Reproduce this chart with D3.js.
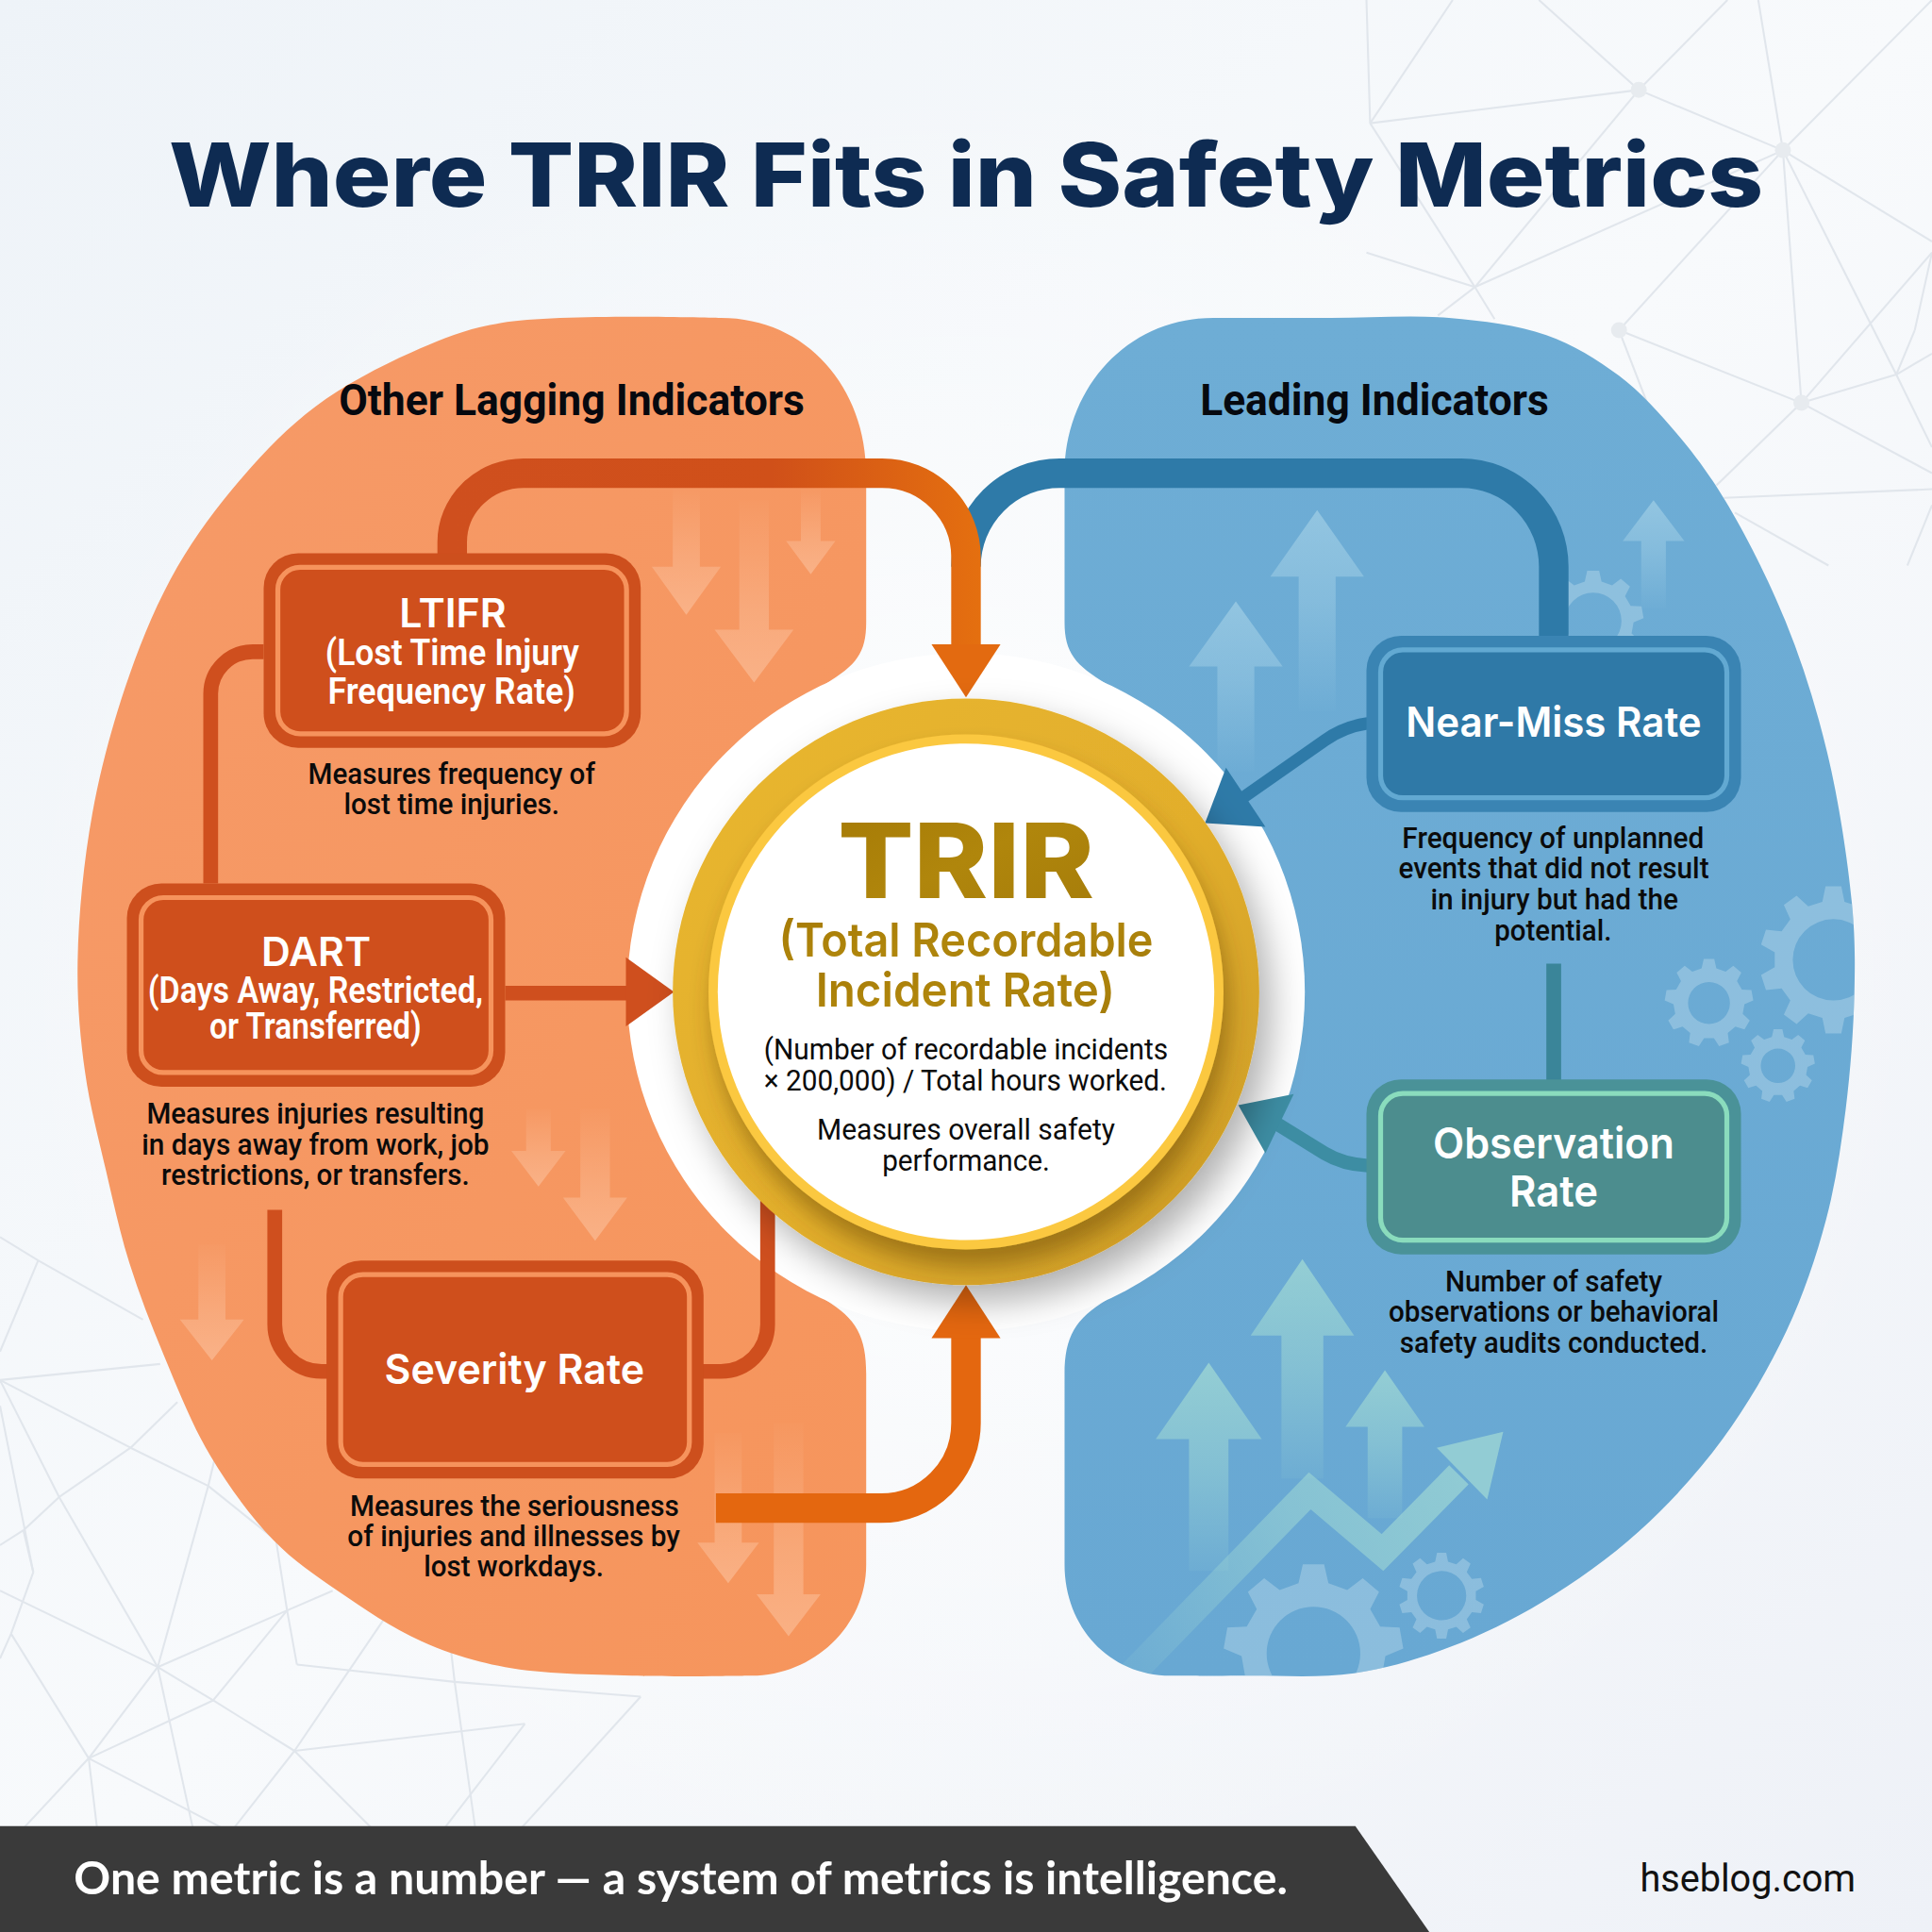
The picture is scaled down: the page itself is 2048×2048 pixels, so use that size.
<!DOCTYPE html>
<html>
<head>
    <title>Where TRIR Fits in Safety Metrics</title>
    <script src="https://d3js.org/d3.v7.min.js"></script>
    <style type="text/css">
        html, body{ margin:0; padding:0; background:#f4f7fa; }
        svg{ display:block; }
    </style>
</head>
<body>
<script>
    // texts
    var titleText = ["Where TRIR Fits in Safety Metrics"];
    var groupNames = ["Other Lagging Indicators", "Leading Indicators"];
    var ltifrName = ["LTIFR"];
    var ltifrLong = ["(Lost Time Injury", "Frequency Rate)"];
    var ltifrNote = ["Measures frequency of", "lost time injuries."];
    var dartName = ["DART"];
    var dartLong = ["(Days Away, Restricted,", "or Transferred)"];
    var dartNote = ["Measures injuries resulting", "in days away from work, job", "restrictions, or transfers."];
    var severityName = ["Severity Rate"];
    var severityNote = ["Measures the seriousness", "of injuries and illnesses by", "lost workdays."];
    var nearMissName = ["Near-Miss Rate"];
    var nearMissNote = ["Frequency of unplanned", "events that did not result", "in injury but had the", "potential."];
    var observationName = ["Observation", "Rate"];
    var observationNote = ["Number of safety", "observations or behavioral", "safety audits conducted."];
    var trirName = ["TRIR"];
    var trirLong = ["(Total Recordable", "Incident Rate)"];
    var trirFormula = ["(Number of recordable incidents", "\u00d7 200,000) / Total hours worked."];
    var trirNote = ["Measures overall safety", "performance."];
    var footerText = ["One metric is a number \u2014 a system of metrics is intelligence."];
    var siteText = ["hseblog.com"];

    var w = 2048;
    var u = d3.scaleLinear().domain([0,1568]).range([0,w]); // layout below is in 1568 units

    var svg = d3.select("body").append("svg").attr("width",w).attr("height",w);
    var defs = svg.append("defs");
    var root = svg.append("g").attr("transform","scale("+u(1)+")");

    function linGrad(id,x1,y1,x2,y2,stops,user){
        var g = defs.append("linearGradient").attr("id",id)
            .attr("x1",x1).attr("y1",y1).attr("x2",x2).attr("y2",y2);
        if(user) g.attr("gradientUnits","userSpaceOnUse");
        stops.forEach(function(s){
            g.append("stop").attr("offset",s[0]).attr("stop-color",s[1]).attr("stop-opacity",s[2]===undefined?1:s[2]);
        });
    }
    linGrad("bg",0,0,1,1,[[0,"#eef3f8"],[0.5,"#f8fafc"],[1,"#eef1f7"]]);
    linGrad("orangeBlob",0,0,1,1,[[0,"#f69a68"],[1,"#f6955c"]]);
    linGrad("blueBlob",0,0,0,1,[[0,"#6eadd5"],[1,"#68a8d3"]]);
    linGrad("downFade",0,0,0,1,[[0,"#ffdcc4",0.02],[0.6,"#ffdcc4",0.26],[1,"#ffdcc4",0.38]]);
    linGrad("upFade",0,0,0,1,[[0,"#a9d4e8",0.62],[0.45,"#a9d4e8",0.4],[1,"#a9d4e8",0.02]]);
    linGrad("upFadeTeal",0,0,0,1,[[0,"#a4dcd4",0.72],[0.5,"#a4dcd4",0.45],[1,"#a4dcd4",0.08]]);
    linGrad("trendFade",925,1350,1210,1170,[[0,"#a4dcd4",0.12],[0.5,"#a4dcd4",0.5],[1,"#a4dcd4",0.7]],true);
    linGrad("topArrow",367,0,800,0,[[0,"#cf4f1e"],[0.6,"#d05019"],[1,"#e5700f"]],true);
    linGrad("ringGold",0,0,1,1,[[0,"#e9b72f"],[0.55,"#e2ae2c"],[1,"#c99a26"]]);
    linGrad("trirText",0,0,1,1,[[0,"#a57a06"],[0.5,"#b0860c"],[1,"#a57c0a"]]);
    var bgGlow = defs.append("radialGradient").attr("id","bgGlow");
    bgGlow.append("stop").attr("offset",0).attr("stop-color","#ffffff").attr("stop-opacity",1);
    bgGlow.append("stop").attr("offset",1).attr("stop-color","#ffffff").attr("stop-opacity",0);

    var ringShadow = defs.append("filter").attr("id","ringShadow")
        .attr("x","-20%").attr("y","-20%").attr("width","150%").attr("height","150%");
    ringShadow.append("feDropShadow").attr("dx",10).attr("dy",14).attr("stdDeviation",14)
        .attr("flood-color","#000").attr("flood-opacity",0.3);
    var innerShadow = defs.append("filter").attr("id","innerShadow")
        .attr("x","-20%").attr("y","-20%").attr("width","140%").attr("height","140%");
    innerShadow.append("feDropShadow").attr("dx",4).attr("dy",14).attr("stdDeviation",9)
        .attr("flood-color","#5a3d00").attr("flood-opacity",0.45);

    // background
    root.append("rect").attr("width",1568).attr("height",1568).attr("fill","url(#bg)");
    root.append("ellipse").attr("cx",784).attr("cy",800).attr("rx",800).attr("ry",760).attr("fill","url(#bgGlow)").attr("opacity",0.7);

    // faint network, top right and bottom left
    var netTop = [[1112,100],[1330,73],[1447,122],[1314,268],[1462,327],[1539,304],[1197,233],[1517,264]];
    var netTopLinks = [[0,1],[1,2],[1,6],[0,6],[2,3],[2,4],[2,5],[3,4],[4,5],[6,2]];
    var netTopOpen = [
        [1330,73,1249,0],[1330,73,1402,0],[1112,100,1179,0],[1112,100,1109,0],[1109,205,1197,233],
        [1197,233,1167,256],[1197,233,1213,259],[1447,122,1427,0],[1447,122,1568,0],[1447,122,1568,196],
        [1314,268,1343,343],[1462,327,1568,205],[1462,327,1393,394],[1462,327,1568,384],[1399,404,1568,397],
        [1408,416,1484,459],[1539,304,1568,287],[1539,304,1554,268],[1554,268,1568,205],[1539,304,1568,363],[1568,410,1548,459]
    ];
    var netBot = [[31,1023],[0,1120],[106,1175],[48,1215],[19,1242],[128,1353],[72,1427],[239,1421],[241,1351],[173,1380],[9,1326],[520,1377],[426,1399],[224,1250],[169,1206],[27,1276],[233,1307],[369,1365]];
    var netBotLinks = [[1,2],[2,14],[1,3],[3,5],[2,3],[3,4],[14,5],[14,13],[15,10],[5,16],[5,6],[5,9],[9,7],[10,6],[6,9],[9,16],[13,16],[16,8],[8,17],[17,11],[7,12],[4,15]];
    var netBotOpen = [
        [0,1004,31,1023],[31,1023,116,1071],[31,1023,0,1097],[0,1120,130,1107],[106,1175,144,1138],[19,1242,0,1254],
        [169,1206,174,1185],[0,1141,27,1276],[9,1326,0,1346],[0,1291,128,1353],[233,1307,270,1291],[128,1353,157,1486],
        [239,1421,304,1486],[72,1427,79,1486],[72,1427,17,1486],[239,1421,188,1486],[239,1421,311,1315],[426,1399,359,1486],
        [520,1377,421,1486],[369,1365,366,1339],[369,1365,386,1486],[72,1427,185,1486]
    ];
    var net = root.append("g").attr("stroke","#e1e6ec").attr("stroke-width",1.6).attr("fill","none");
    function netLines(data){
        net.selectAll(null).data(data).enter().append("line")
            .attr("x1",function(d){return d[0];}).attr("y1",function(d){return d[1];})
            .attr("x2",function(d){return d[2];}).attr("y2",function(d){return d[3];});
    }
    netLines(netTopLinks.map(function(l){return netTop[l[0]].concat(netTop[l[1]]);}));
    netLines(netTopOpen);
    netLines(netBotLinks.map(function(l){return netBot[l[0]].concat(netBot[l[1]]);}));
    netLines(netBotOpen);
    root.append("g").selectAll("circle").data(netTop.slice(1,5)).enter().append("circle")
        .attr("cx",function(d){return d[0];}).attr("cy",function(d){return d[1];}).attr("r",6.5).attr("fill","#e7ebef");

    // side panels
    var smooth = d3.line().curve(d3.curveCatmullRom.alpha(0.5));
    var leftEdge = [[610,1360],[513,1360],[410,1353],[342,1332],[274,1291],[222,1250],[171,1182],[133,1100],[105,1025],[86,950],[69,870],[63,782],[75,660],[105,548],[144,460],[197,387],[256,330],[334,286],[407,262],[585,258]];
    var rightEdge = [[985,258],[1080,258],[1176,258],[1255,272],[1314,305],[1361,352],[1400,406],[1449,504],[1483,611],[1503,733],[1505,806],[1498,900],[1482,990],[1450,1080],[1398,1168],[1330,1243],[1252,1300],[1176,1337],[1099,1358],[1011,1360],[950,1360]];
    var leftPanel = smooth(leftEdge)+" C 655 258 703 315 703 385 L 703 505 C 703 530 695 540 670 555 L 670 1055 C 695 1070 703 1085 703 1115 L 703 1270 C 703 1320 660 1360 610 1360 Z";
    var rightPanel = smooth(rightEdge)+" C 900 1360 864 1320 864 1270 L 864 1115 C 864 1085 873 1070 898 1055 L 898 555 C 873 540 864 530 864 505 L 864 385 C 864 315 915 258 985 258 Z";
    defs.append("clipPath").attr("id","clipLeft").append("path").attr("d",leftPanel);
    defs.append("clipPath").attr("id","clipRight").append("path").attr("d",rightPanel);
    root.append("path").attr("d",leftPanel).attr("fill","url(#orangeBlob)");
    root.append("path").attr("d",rightPanel).attr("fill","url(#blueBlob)");

    // faded background arrows: centre, start of shaft, head base, tip, half shaft, half head
    var arrowShape = d3.line();
    function arrowPts(a){
        var c=a[0], s=a[1], b=a[2], t=a[3], hs=a[4], hh=a[5];
        return [[c-hs,s],[c-hs,b],[c-hh,b],[c,t],[c+hh,b],[c+hs,b],[c+hs,s]];
    }
    var downArrows = [
        [557,397,460,499,11,28],[612,406,511,554,12,32],[658,397,439,466,8,20],[437,900,934,963,10,22],
        [483,900,972,1007,12,26],[172,1010,1071,1104,11,26],[591,1163,1252,1285,11,25],[640,1155,1294,1328,12,26]
    ];
    var upArrows = [[1003,626,541,488,15,38],[1069,577,468,414,15,38],[1342,494,439,406,10,25]];
    var upArrowsLow = [[981,1275,1168,1106,16,43],[1057,1200,1084,1022,17,42],[1124,1232,1158,1112,14,32]];
    root.append("g").attr("clip-path","url(#clipLeft)").selectAll("path").data(downArrows).enter().append("path")
        .attr("d",function(d){return arrowShape(arrowPts(d))+"Z";}).attr("fill","url(#downFade)");

    var rightDecor = root.append("g").attr("clip-path","url(#clipRight)");
    rightDecor.selectAll(null).data(upArrows).enter().append("path")
        .attr("d",function(d){return arrowShape(arrowPts(d))+"Z";}).attr("fill","url(#upFade)");
    rightDecor.selectAll(null).data(upArrowsLow).enter().append("path")
        .attr("d",function(d){return arrowShape(arrowPts(d))+"Z";}).attr("fill","url(#upFadeTeal)");

    // cog: centre, outer radius, hole radius, teeth
    function gearPath(g){
        var n=g[3], R=g[2], r=R*0.8, pts=[], step=2*Math.PI/n;
        d3.range(n).forEach(function(i){
            var a=i*step;
            pts.push([a-step*0.30,r],[a-step*0.17,R],[a+step*0.17,R],[a+step*0.30,r]);
        });
        var xy = pts.map(function(p){return [g[0]+p[1]*Math.sin(p[0]), g[1]-p[1]*Math.cos(p[0])];});
        var hole = d3.path();
        hole.moveTo(g[0]+g[4],g[1]);
        hole.arc(g[0],g[1],g[4],0,2*Math.PI);
        return arrowShape(xy)+"Z"+hole.toString();
    }
    var gears = [
        [1488,779,60,10,33],[1387,814,36,9,17],[1443,865,30,9,14],[1293,504,41,9,23],
        [1066,1342,73,9,38],[1170,1295,35,10,20]
    ];
    rightDecor.selectAll(null).data(gears).enter().append("path")
        .attr("d",gearPath).attr("fill-rule","evenodd").attr("fill","#bcdcec").attr("opacity",0.42);
    var trendLine = [[915,1362],[1063,1210],[1122,1260],[1184,1197]];
    rightDecor.append("path").attr("d",d3.line()(trendLine)).attr("fill","none")
        .attr("stroke","url(#trendFade)").attr("stroke-width",22);
    rightDecor.append("path").attr("d",arrowShape([[1220,1162],[1166,1175],[1207,1217]])+"Z")
        .attr("fill","#a4dcd4").attr("opacity",0.7);

    // white disc behind the ring
    root.append("circle").attr("cx",784).attr("cy",805).attr("r",275).attr("fill","#ffffff");

    // connectors
    function link(d,color,width){
        return root.append("path").attr("d",d).attr("fill","none").attr("stroke",color).attr("stroke-width",width);
    }
    function head(pts,color){
        root.append("path").attr("d",arrowShape(pts)+"Z").attr("fill",color);
    }
    var orange="#cf4f1e", blue="#2e7aa8", teal="#3a8599", amber="#e4670f";
    link("M 1261 518 L 1261 460 A 75 76 0 0 0 1186 384 L 860 384 A 76 76 0 0 0 784 460",blue,24);
    link("M 367 452 L 367 440 A 58 56 0 0 1 425 384 L 716 384 A 68 68 0 0 1 784 452 L 784 525","url(#topArrow)",24);
    head([[756,523],[812,523],[784,566]],"#e36a10");
    link("M 214 529 L 205 529 A 34 34 0 0 0 171 563 L 171 717",orange,12);
    link("M 223 982 L 223 1075 A 38 38 0 0 0 261 1113 L 266 1113",orange,12);
    link("M 570 1113 L 585 1113 A 38 38 0 0 0 623 1075 L 623 970",orange,12);
    link("M 410 806 L 510 806",orange,12);
    head([[508,777],[547,805],[508,833]],orange);
    link("M 581 1224 L 715 1224 A 69 69 0 0 0 784 1155 L 784 1084",amber,24);
    head([[756,1086],[812,1086],[784,1043]],amber);
    link("M 1261 782 L 1261 878",teal,12);
    link("M 1110 587 Q 1090 590 1075 601 L 1005 650",blue,10);
    head([[995,623],[978,668],[1027,671]],blue);
    link("M 1110 946 Q 1090 945 1075 936 L 1025 905","#3d8da3",11);
    head([[1005,897],[1050,888],[1027,936]],"#3d8da3");

    // metric boxes: x0, y0, x1, y1
    var boxes = [
        {r:[214,449,520,607],edge:"#cd4f1d",line:"#f6935c",fill:"#cf4f1c"},
        {r:[103,717,410,882],edge:"#cd4f1d",line:"#f6935c",fill:"#cf4f1c"},
        {r:[265,1023,571,1200],edge:"#cd4f1d",line:"#f6935c",fill:"#cf4f1c"},
        {r:[1109,516,1413,659],edge:"#3a84b3",line:"#62a9d2",fill:"#2f79a7"},
        {r:[1109,876,1413,1018],edge:"#4a9298",line:"#8adcbd",fill:"#4c8d8e"}
    ];
    var box = root.append("g").selectAll("g").data(boxes).enter().append("g");
    box.append("rect")
        .attr("x",function(d){return d.r[0];}).attr("y",function(d){return d.r[1];})
        .attr("width",function(d){return d.r[2]-d.r[0];}).attr("height",function(d){return d.r[3]-d.r[1];})
        .attr("rx",28).attr("fill",function(d){return d.edge;});
    box.append("rect")
        .attr("x",function(d){return d.r[0]+11.5;}).attr("y",function(d){return d.r[1]+11.5;})
        .attr("width",function(d){return d.r[2]-d.r[0]-23;}).attr("height",function(d){return d.r[3]-d.r[1]-23;})
        .attr("rx",18).attr("fill",function(d){return d.fill;})
        .attr("stroke",function(d){return d.line;}).attr("stroke-width",4);

    // TRIR ring
    root.append("circle").attr("cx",784).attr("cy",805).attr("r",238).attr("fill","url(#ringGold)").attr("filter","url(#ringShadow)");
    root.append("circle").attr("cx",784).attr("cy",805).attr("r",209).attr("fill","#fbc840").attr("filter","url(#innerShadow)");
    root.append("circle").attr("cx",784).attr("cy",805).attr("r",201.5).attr("fill","#ffffff");

    // every line is fitted to the width it has in the picture
    function label(lines,spans,baselines,font,size,weight,color){
        var t = root.append("g").selectAll("text").data(lines).enter().append("text")
            .text(function(d){return d;})
            .attr("x",function(d,i){return spans[i][0];})
            .attr("y",function(d,i){return baselines[i];})
            .attr("font-family",font).attr("font-size",size).attr("font-weight",weight).attr("fill",color);
        t.attr("textLength",function(d,i){return spans[i][1]-spans[i][0];})
         .attr("lengthAdjust","spacingAndGlyphs");
    }
    var body = "Roboto, sans-serif", head2 = "Inter, Roboto, sans-serif";
    label(titleText,[[137,1431]],[168],head2,72,800,"#0e2b52");
    label(groupNames,[[275,653],[974,1257]],[337,337],body,36,700,"#06090f");
    label(ltifrName,[[324,411]],[509],head2,32,600,"#fff");
    label(ltifrLong,[[264,470],[266,467]],[540,571],body,29,600,"#fff");
    label(ltifrNote,[[250,483],[279,454]],[636,661],body,24,500,"#0b0b0b");
    label(dartName,[[212,301]],[784],head2,32,600,"#fff");
    label(dartLong,[[120,392],[170,342]],[814,843],body,29,600,"#fff");
    label(dartNote,[[119,393],[115,397],[131,381]],[912,937,962],body,24,500,"#0b0b0b");
    label(severityName,[[312,523]],[1123],head2,34,600,"#fff");
    label(severityNote,[[284,551],[282,552],[344,490]],[1230,1255,1279],body,24,500,"#0b0b0b");
    label(nearMissName,[[1141,1381]],[598],head2,34,600,"#fff");
    label(nearMissNote,[[1138,1383],[1135,1387],[1161,1362],[1213,1308]],[688,713,738,763],body,24,500,"#0b0b0b");
    label(observationName,[[1163,1359],[1225,1297]],[940,979],head2,35,600,"#fff");
    label(observationNote,[[1173,1349],[1127,1395],[1136,1386]],[1048,1073,1098],body,24,500,"#0b0b0b");
    label(trirName,[[680,888]],[729],head2,84,800,"url(#trirText)");
    label(trirLong,[[632,936],[662,905]],[776,817],head2,38,600,"url(#trirText)");
    label(trirFormula,[[620,948],[620,947]],[860,885],body,24,400,"#0b0b0b");
    label(trirNote,[[663,905],[716,852]],[925,950],body,24,400,"#0b0b0b");

    // footer band
    root.append("path").attr("d",arrowShape([[0,1482],[1100,1482],[1160,1568],[0,1568]])+"Z").attr("fill","#3a3a3a");
    label(footerText,[[60,1045]],[1537],"Lato, sans-serif",37,700,"#fff");
    label(siteText,[[1331,1506]],[1535],"Roboto, sans-serif",31,400,"#111");
</script>
</body>
</html>
